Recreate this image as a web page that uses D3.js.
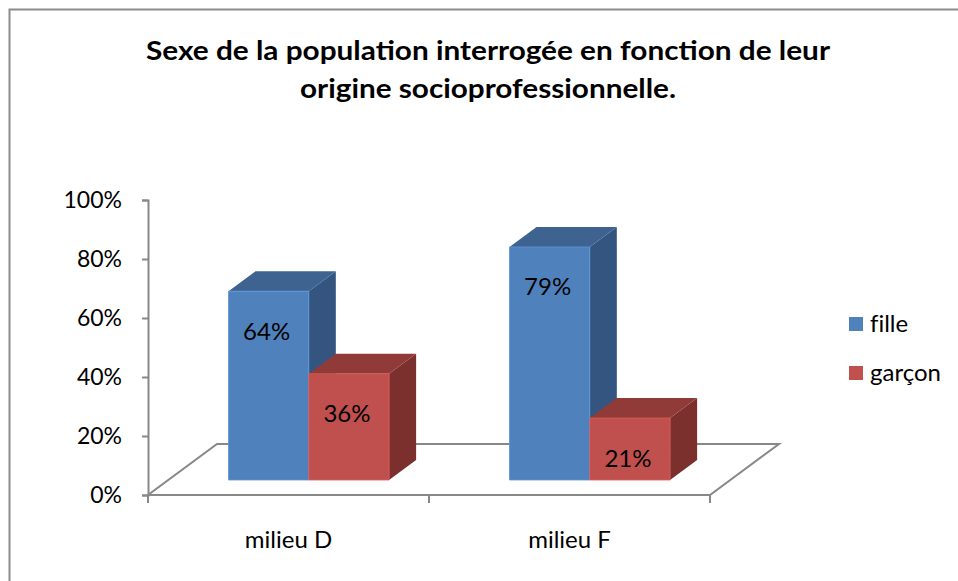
<!DOCTYPE html>
<html>
<head>
<meta charset="utf-8">
<script src="https://cdn.jsdelivr.net/npm/d3@7"></script>
<style>
  body { margin: 0; background: #fff; }
  svg { display: block; font-family: Lato, "Open Sans", sans-serif; }
</style>
</head>
<body>
<div id="chart"></div>
<script>
const categories = ['milieu D', 'milieu F'];
const series = ['fille', 'garçon'];
const filleValues = [0.64, 0.79];
const garconValues = [0.36, 0.21];
const yTicks = [0, 0.2, 0.4, 0.6, 0.8, 1];
const titleLines = ['Sexe de la population interrogée en fonction de leur', 'origine socioprofessionnelle.'];

const width = 958, height = 581;
// floor / depth geometry (oblique 3D look)
const depthX = 69, depthY = -51;
const barDepth = [0.294, 0.686];

const colors = {
  fille: { front: '#4f81bd', top: '#3e6391', side: '#33557f' },
  'garçon': { front: '#c0504d', top: '#913b39', side: '#7b302e' }
};

const svg = d3.select('#chart').append('svg')
  .attr('width', width)
  .attr('height', height);

// outer frame
svg.append('path')
  .attr('d', `M9.5,${height + 5}V9.5H${width + 5}`)
  .attr('fill', 'none')
  .attr('stroke', '#8c8c8c')
  .attr('stroke-width', 2);

// title
svg.append('g').selectAll('text')
  .data(titleLines)
  .join('text')
  .attr('x', 488)
  .attr('y', (d, i) => 60 + i * 38)
  .attr('text-anchor', 'middle')
  .attr('font-weight', 'bold')
  .attr('font-size', 26)
  .attr('textLength', (d, i) => i === 0 ? 684 : 376)
  .attr('lengthAdjust', 'spacingAndGlyphs')
  .text(d => d);

const x = d3.scaleBand()
  .domain(categories)
  .range([148, 710]);

const xInner = d3.scaleBand()
  .domain(series)
  .range([0, x.bandwidth()])
  .paddingOuter(0.75);

const y = d3.scaleLinear()
  .domain([0, 1])
  .range([495, 200]);

const proj = (px, py, d) => [px + d * depthX, py + d * depthY];

// floor
const fl = [proj(148, y(0), 0), proj(710, y(0), 0), proj(710, y(0), 1), proj(148, y(0), 1)];
svg.append('path')
  .attr('d', d3.line()(fl) + 'Z')
  .attr('fill', 'none')
  .attr('stroke', '#888')
  .attr('stroke-width', 2);

// y axis
const yAxis = svg.append('g')
  .attr('transform', 'translate(148,0)')
  .call(d3.axisLeft(y).tickValues(yTicks).tickFormat(d3.format('.0%')).tickSize(6).tickPadding(20));
yAxis.select('.domain').attr('stroke', '#888').attr('stroke-width', 2);
yAxis.selectAll('.tick line').attr('stroke', '#888').attr('stroke-width', 2);
yAxis.selectAll('.tick text').attr('font-size', 23).attr('fill', '#000').attr('font-family', 'Lato');

// x axis
const xAxis = svg.append('g')
  .attr('transform', `translate(0,${y(0)})`)
  .call(d3.axisBottom(x).tickSize(0).tickPadding(36));
xAxis.select('.domain').remove();
xAxis.selectAll('.tick text').attr('font-size', 24).attr('fill', '#000').attr('font-family', 'Lato');
svg.append('g').selectAll('line')
  .data([148, ...categories.map(c => x(c) + x.bandwidth())])
  .join('line')
  .attr('x1', d => d).attr('x2', d => d)
  .attr('y1', y(0)).attr('y2', y(0) + 8)
  .attr('stroke', '#888')
  .attr('stroke-width', 2);

// bars
const bars = [];
categories.forEach((c, i) => {
  bars.push({ cat: c, s: 'fille', v: filleValues[i] });
  bars.push({ cat: c, s: 'garçon', v: garconValues[i] });
});

const barG = svg.append('g');
bars.forEach(b => {
  const x0 = x(b.cat) + xInner(b.s);
  const x1 = x0 + xInner.bandwidth();
  const yb = y(0), yt = y(b.v);
  const d0 = barDepth[0], d1 = barDepth[1];
  const front = [proj(x0, yb, d0), proj(x1, yb, d0), proj(x1, yt, d0), proj(x0, yt, d0)];
  const top = [proj(x0, yt, d0), proj(x1, yt, d0), proj(x1, yt, d1), proj(x0, yt, d1)];
  const side = [proj(x1, yb, d0), proj(x1, yb, d1), proj(x1, yt, d1), proj(x1, yt, d0)];
  const col = colors[b.s];
  barG.append('path').attr('d', d3.line()(side) + 'Z').attr('fill', col.side);
  barG.append('path').attr('d', d3.line()(top) + 'Z').attr('fill', col.top);
  barG.append('path').attr('d', d3.line()(front) + 'Z').attr('fill', col.front)
    .attr('stroke', d3.color(col.front).brighter(0.4)).attr('stroke-width', 0.8);
  const fc = proj((x0 + x1) / 2 - 2, yt + 39, d0);
  barG.append('text')
    .attr('x', fc[0])
    .attr('y', fc[1])
    .attr('text-anchor', 'middle')
    .attr('dominant-baseline', 'central')
    .attr('font-size', 24)
    .text(d3.format('.0%')(b.v));
});

// legend
const legend = svg.append('g').attr('transform', 'translate(849,317)');
legend.selectAll('rect')
  .data(series)
  .join('rect')
  .attr('x', 0)
  .attr('y', (d, i) => i * 49)
  .attr('width', 14)
  .attr('height', 14)
  .attr('fill', d => colors[d].front);
legend.selectAll('text')
  .data(series)
  .join('text')
  .attr('x', 21)
  .attr('y', (d, i) => i * 49 + 15)
  .attr('font-size', 24)
  .style('font-variant-ligatures', 'none')
  .text(d => d);
</script>
</body>
</html>
